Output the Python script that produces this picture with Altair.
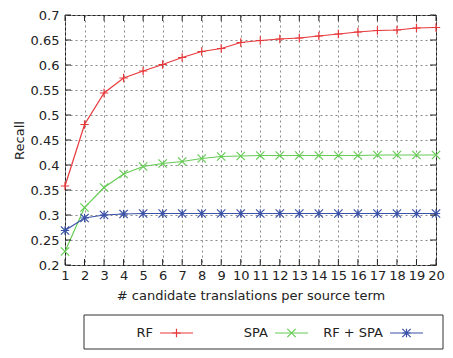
import altair as alt
import pandas as pd

# ---- data ----
k = list(range(1, 21))
rf = [0.358, 0.481, 0.544, 0.574, 0.588, 0.601, 0.615, 0.627, 0.633, 0.645,
      0.649, 0.652, 0.654, 0.658, 0.662, 0.666, 0.669, 0.670, 0.674, 0.675]
spa = [0.227, 0.315, 0.355, 0.382, 0.397, 0.403, 0.407, 0.413, 0.417, 0.418,
       0.419, 0.419, 0.419, 0.419, 0.419, 0.419, 0.420, 0.420, 0.420, 0.420]
rfspa = [0.269, 0.294, 0.300, 0.302, 0.303, 0.303, 0.303, 0.303, 0.303, 0.303,
         0.303, 0.303, 0.303, 0.303, 0.303, 0.303, 0.303, 0.303, 0.303, 0.303]
series = ["RF", "SPA", "RF + SPA"]
y_ticks = [0.2, 0.25, 0.3, 0.35, 0.4, 0.45, 0.5, 0.55, 0.6, 0.65, 0.7]

colors = ["#e8383a", "#66cc55", "#3a52a8"]
shapes = [
    "M-1,0L1,0M0,-1L0,1",
    "M-1,-1L1,1M-1,1L1,-1",
    "M-1,0L1,0M0,-1L0,1M-1,-1L1,1M-1,1L1,-1",
]

rows = []
for name, vals in zip(series, [rf, spa, rfspa]):
    for kk, v in zip(k, vals):
        rows.append({"k": kk, "recall": v, "series": name})
df = pd.DataFrame(rows)

W, H = 371, 250
PL, PT, PR = 57, 7, 9
SVG_H = 342
FONT = "DejaVu Sans"

x_axis = alt.Axis(values=k, title="# candidate translations per source term",
                  grid=True, gridDash=[2, 3], gridColor="#8a8a8a",
                  ticks=False, domain=False, labelFlush=False,
                  labelOverlap=False, labelPadding=4, titlePadding=7)
y_axis = alt.Axis(values=y_ticks, format=".2~f", title="Recall",
                  grid=True, gridDash=[2, 3], gridColor="#8a8a8a",
                  ticks=False, domain=False, labelPadding=6,
                  labelOverlap=False, labelFlush=False, titlePadding=4)
x_scale = alt.Scale(domain=[1, 20], nice=False)
y_scale = alt.Scale(domain=[0.2, 0.7], nice=False, zero=False)


def X(f):
    return alt.X(f, scale=x_scale, axis=x_axis)


def Y(f):
    return alt.Y(f, scale=y_scale, axis=y_axis)


color = alt.Color("series:N", scale=alt.Scale(domain=series, range=colors), legend=None)
shape = alt.Shape("series:N", scale=alt.Scale(domain=series, range=shapes), legend=None)

lines = alt.Chart(df).mark_line(strokeWidth=1.2).encode(x=X("k:Q"), y=Y("recall:Q"), color=color)
points = alt.Chart(df).mark_point(filled=False, size=70, strokeWidth=1.2, opacity=1).encode(
    x=X("k:Q"), y=Y("recall:Q"),
    stroke=alt.Stroke("series:N", scale=alt.Scale(domain=series, range=colors), legend=None),
    shape=shape)

# inward ticks on all four sides
xt = pd.DataFrame({"k": k})
yt = pd.DataFrame({"recall": y_ticks})
tick_b = alt.Chart(xt).mark_rule(color="#222").encode(x=X("k:Q"), y=alt.value(H), y2=alt.value(H - 6))
tick_t = alt.Chart(xt).mark_rule(color="#222").encode(x=X("k:Q"), y=alt.value(0), y2=alt.value(6))
tick_l = alt.Chart(yt).mark_rule(color="#222").encode(y=Y("recall:Q"), x=alt.value(0), x2=alt.value(6))
tick_r = alt.Chart(yt).mark_rule(color="#222").encode(y=Y("recall:Q"), x=alt.value(W), x2=alt.value(W - 6))

# legend box below the plot
LY = 318
box = alt.Chart(pd.DataFrame({"a": [0]})).mark_rect(fillOpacity=0, stroke="#333", strokeWidth=1).encode(
    x=alt.value(19), x2=alt.value(378), y=alt.value(300), y2=alt.value(334))
leg_layers = [box]
text_right = [88, 203, 318]
for i, name in enumerate(series):
    ld = pd.DataFrame({"name": [name]})
    x0 = text_right[i] + 7
    leg_layers.append(alt.Chart(ld).mark_text(align="right", baseline="middle", fontSize=13,
                                              font=FONT, color="#222").encode(
        text="name:N", x=alt.value(text_right[i]), y=alt.value(LY)))
    leg_layers.append(alt.Chart(ld).mark_rule(color=colors[i], strokeWidth=1.2).encode(
        x=alt.value(x0), x2=alt.value(x0 + 33), y=alt.value(LY)))
    leg_layers.append(alt.Chart(ld).mark_point(shape=shapes[i], filled=False, size=70,
                                               strokeWidth=1.2, color=colors[i], opacity=1).encode(
        x=alt.value(x0 + 16.5), y=alt.value(LY)))

chart = alt.layer(lines, points, tick_b, tick_t, tick_l, tick_r, *leg_layers).properties(
    width=W, height=H,
    autosize=alt.AutoSizeParams(type="none"),
    padding={"left": PL, "top": PT, "right": PR, "bottom": SVG_H - PT - H},
).configure_view(stroke="#222", strokeWidth=1).configure_axis(
    labelFont=FONT, titleFont=FONT, labelFontSize=13, titleFontSize=13,
    titleFontWeight="normal", labelColor="#222", titleColor="#222")

chart.save("out.html", embed_options={"renderer": "svg", "actions": False})
